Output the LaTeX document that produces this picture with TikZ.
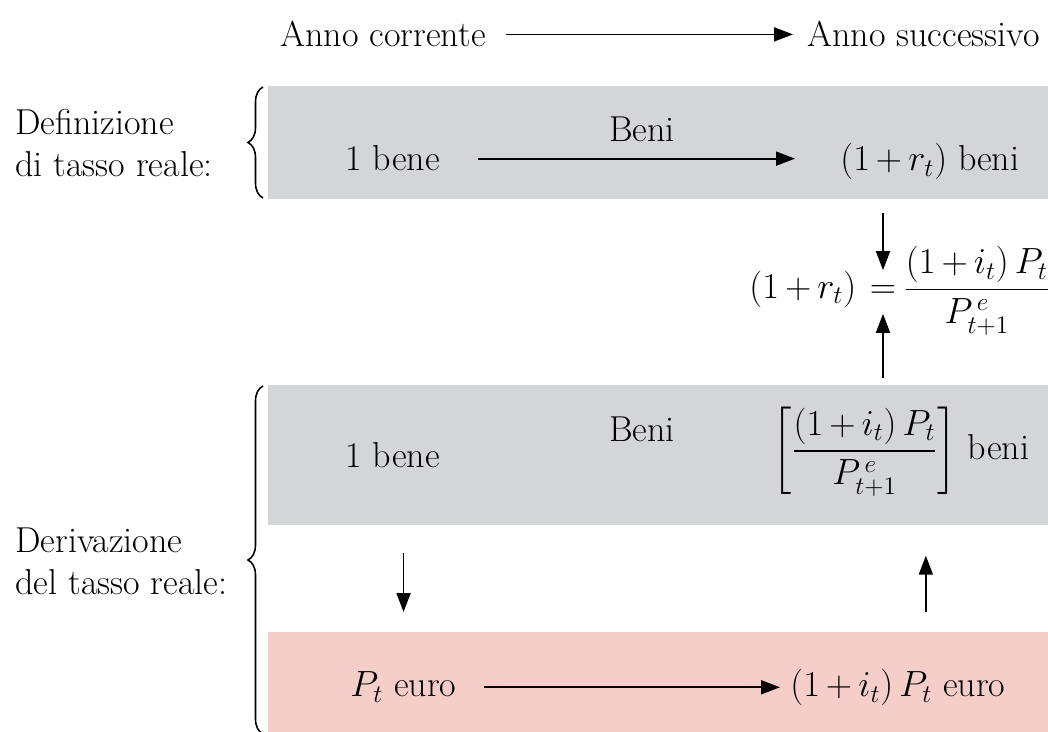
\documentclass[tikz,border=0pt]{standalone}
\usepackage{amsmath}
\usetikzlibrary{positioning,arrows.meta,decorations.pathreplacing}
\definecolor{boxgray}{RGB}{212,213,215}
\definecolor{boxpink}{RGB}{245,206,201}
\medmuskip=3mu

\begin{document}
\begin{tikzpicture}[x=0.02cm,y=-0.02cm,
    every node/.style={font=\fontsize{20.5}{24}\selectfont,inner sep=0pt},
    flow/.style={-{Triangle[length=0.38cm,width=0.28cm]},line width=1pt},
    band/.style={anchor=north west,minimum width=15.6cm},
    side/.style={align=left,anchor=west},
    curly/.style={decorate,decoration={brace,amplitude=0.3cm},line width=0.9pt}]
    \useasboundingbox (0,0) rectangle (1048,732);
    \node[band,fill=boxgray,minimum height=2.26cm] (box1) at (268,86) {};
    \node[band,fill=boxgray,minimum height=2.8cm] (box2) at (268,385) {};
    \node[band,fill=boxpink,minimum height=2cm] (box3) at (268,632) {};
    \node[anchor=base west] (cur) at (280,47) {Anno corrente};
    \node[anchor=base east] (nxt) at (1040,47) {Anno successivo};
    \draw[flow,shorten <=0.4cm,shorten >=0.28cm] (cur.east) -- (cur.east -| nxt.west);
    \node[side] (def) at (15,143) {Definizione\\di tasso reale:};
    \node[side] (der) at (15,561) {Derivazione\\del tasso reale:};
    \draw[curly] (263,198) -- (263,87);
    \draw[curly] (263,734) -- (263,386);
    \node[anchor=base west] (b1) at (345,171) {1 bene};
    \node[anchor=base] (g1) at (642,142) {Beni};
    \node[anchor=base west] (rb) at (840,171) {$(1+r_t)$ beni};
    \draw[flow,shorten <=0.76cm,shorten >=0.9cm] (b1.east) -- (b1.east -| rb.west);
    \node (eq) at (883,292) {$=$};
    \node[base left=0.26cm of eq] (lhs) {$(1+r_t)$};
    \node[base right=0.14cm of eq] (fr) {$\dfrac{(1+i_t)\,P_t}{P^{\,e}_{t+1}}$};
    \draw[flow,shorten <=0.26cm,shorten >=0.3cm] (eq |- box1.south) -- (eq.north);
    \draw[flow,shorten <=0.14cm,shorten >=0.3cm] (eq |- box2.north) -- (eq.south);
    \node[anchor=base west] (b2) at (345,468) {1 bene};
    \node[anchor=base] (g2) at (642,442) {Beni};
    \node[anchor=base west] (br) at (772,460) {$\left[\dfrac{(1+i_t)\,P_t}{P^{\,e}_{t+1}}\right]$ beni};
    \node[anchor=base west] (pe) at (350,697) {$P_t$ euro};
    \node[anchor=base west] (ie) at (790,697) {$(1+i_t)\,P_t$ euro};
    \draw[flow,shorten <=0.54cm,shorten >=0.2cm] (pe.east) -- (pe.east -| ie.west);
    \draw[flow,shorten <=0.54cm,shorten >=0.4cm] ([xshift=0.22cm]b2.south |- box2.south) -- ([xshift=0.22cm]b2.south |- box3.north);
    \draw[flow,shorten <=0.4cm,shorten >=0.6cm] ([xshift=0.56cm]ie.north |- box3.north) -- ([xshift=0.56cm]ie.north |- box2.south);
\end{tikzpicture}
\end{document}
